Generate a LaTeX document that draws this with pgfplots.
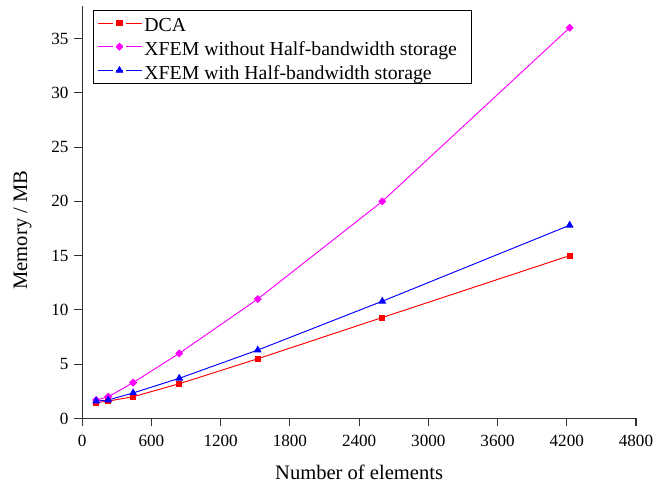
\documentclass[border=0pt]{standalone}
\usepackage{pgfplots}
\pgfplotsset{compat=1.18}
\usepackage{fontspec}
\setmainfont{Liberation Serif}
\definecolor{axgray}{gray}{0.2}
\definecolor{mred}{RGB}{255,0,0}
\definecolor{mmag}{RGB}{255,0,255}
\definecolor{mblue}{RGB}{0,0,255}
\begin{document}
\fontsize{10.8}{13}\selectfont
\begin{tikzpicture}
\begin{axis}[
  width=350pt, height=260.7pt, scale only axis,
  xmin=0, xmax=4800, ymin=0, ymax=38,
  axis lines=left,
  axis line style={-, line width=0.7pt, axgray},
  xtick={0,600,...,4800}, ytick={0,5,...,35},
  tick align=outside, major tick length=5pt,
  tick style={line width=0.7pt, axgray},
  tick label style={font=\fontsize{10.8}{13}\selectfont},
  xticklabel style={yshift=-1.5pt},
  label style={font=\fontsize{13}{15}\selectfont},
  /pgf/number format/assume math mode=true,
  /pgf/number format/set thousands separator={},
  xlabel={Number of elements}, ylabel={Memory / MB},
  xlabel style={at={(axis description cs:0.5,-0.130)}, anchor=center},
  ylabel style={at={(axis description cs:-0.108,0.4567)}, anchor=center},
  legend style={at={(axis description cs:0.0185,0.9905)}, anchor=north west, draw=black, line width=0.5pt,
    inner xsep=3pt, inner ysep=1pt, row sep=1pt,
    nodes={text height=11.5pt, text depth=0.5pt, inner sep=1pt},
    font=\fontsize{12.5}{15}\selectfont},
  legend cell align=left,
  legend image code/.code={
    \draw[#1, mark repeat=2, mark phase=2] plot coordinates {(0pt,0pt) (13.5pt,0pt) (28pt,0pt)};
    \fill[white] (10pt,-0.6pt) rectangle (11pt,0.6pt);
    \fill[white] (16pt,-0.6pt) rectangle (17pt,0.6pt);
  },
]
\addplot[mred, line width=0.6pt, mark=square*, mark size=1.6pt] coordinates {
(121,1.45) (225,1.6) (441,2.0) (841,3.2) (1521,5.5) (2601,9.3) (4225,15.0)};
\addlegendentry{DCA}
\addplot[mmag, line width=0.6pt, mark=square*, mark size=1.5pt, mark options={rotate=45}] coordinates {
(121,1.7) (225,2.0) (441,3.3) (841,6.0) (1521,11.0) (2601,20.0) (4225,36.0)};
\addlegendentry{XFEM without Half-bandwidth storage\hspace*{5pt}}
\addplot[mblue, line width=0.6pt, mark=triangle*, mark size=2.3pt] coordinates {
(121,1.6) (225,1.7) (441,2.35) (841,3.7) (1521,6.3) (2601,10.8) (4225,17.8)};
\addlegendentry{XFEM with Half-bandwidth storage}
\end{axis}
\pgfresetboundingbox
\path ([shift={(-52pt,-41.5pt)}]current axis.south west) rectangle ([shift={(13.3pt,3.8pt)}]current axis.north east);
\end{tikzpicture}
\end{document}
